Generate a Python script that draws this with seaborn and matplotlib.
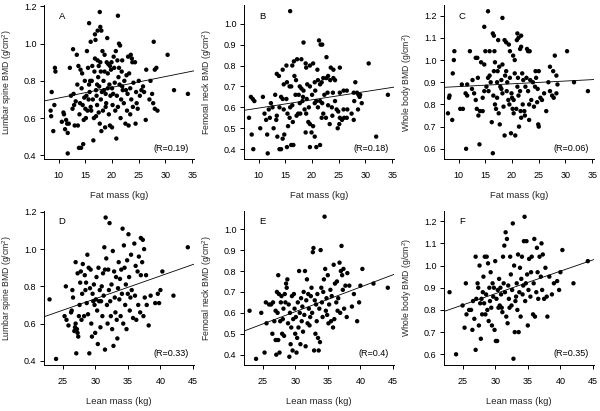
import matplotlib
matplotlib.use("Agg")
import matplotlib.pyplot as plt
import seaborn as sns
import pandas as pd

# ---------------- data ----------------
panel_A = [(8.5,0.64),(8.6,0.61),(8.7,0.74),(9.0,0.53),(9.2,0.67),(9.3,0.87),(9.4,0.85),
    (10.6,0.58),(10.9,0.63),(11.0,0.62),(11.2,0.54),(11.4,0.59),(11.6,0.57),(11.7,0.52),(11.7,0.41),(11.9,0.57),(12.1,0.87),(12.3,0.72),
    (12.6,0.65),(12.7,0.97),(12.8,0.73),(12.9,0.67),(13.0,0.56),(13.2,0.69),(13.4,0.94),(13.5,0.78),(13.6,0.56),(13.7,0.88),(13.8,0.44),(13.9,0.62),(14.0,0.68),(14.1,0.86),(14.2,0.44),(14.3,0.76),(14.4,0.84),(14.5,0.67),
    (14.6,0.46),(14.7,0.59),(14.8,0.71),(14.9,0.80),(15.0,0.65),(15.1,0.60),(15.3,0.96),(15.4,0.64),(15.5,0.87),(15.6,0.70),(15.7,1.11),(15.8,0.74),(15.9,0.80),(16.0,1.01),(16.1,0.64),(16.2,0.80),(16.3,0.88),(16.4,0.70),(16.5,0.48),(16.6,0.60),(16.7,0.85),(16.8,1.05),(16.8,0.92),(16.9,1.02),
    (17.0,0.75),(17.0,0.61),(17.1,0.72),(17.2,0.67),(17.3,1.07),(17.3,0.91),(17.4,0.82),(17.5,0.63),(17.6,0.77),(17.7,1.17),(17.7,0.57),(17.8,1.09),(17.8,0.90),(17.9,0.85),(17.9,0.70),(18.0,1.07),(18.0,0.53),(18.1,0.74),(18.2,0.96),(18.3,0.64),(18.4,0.80),
    (18.5,0.75),(18.6,0.94),(18.6,0.85),(18.7,0.55),(18.8,0.73),(18.9,0.68),(19.0,0.90),(19.1,1.03),(19.2,0.76),(19.3,0.89),(19.4,0.62),(19.5,0.78),(19.6,0.56),(19.7,0.72),(19.8,0.86),(19.9,0.90),(20.0,0.55),(20.0,0.76),(20.1,0.67),
    (20.3,0.93),(20.4,0.87),(20.5,0.79),(20.6,0.64),(20.7,0.96),(20.8,0.49),(20.9,0.72),(21.0,0.91),(21.1,1.15),(21.1,0.66),(21.2,0.82),(21.3,1.00),(21.3,0.87),(21.4,0.78),(21.5,0.99),(21.6,0.60),(21.7,0.70),(21.8,0.85),(21.9,0.91),(22.0,0.75),
    (22.2,0.68),(22.3,0.80),(22.5,0.57),(22.6,0.75),(22.7,0.83),(22.8,0.64),(23.0,0.93),(23.1,0.56),(23.2,0.84),(23.4,0.76),(23.5,0.94),(23.6,0.70),(23.7,0.92),(23.8,0.90),(23.9,0.66),(24.0,0.79),
    (24.3,0.90),(24.4,0.57),(24.5,0.74),(24.6,0.68),(24.8,0.65),(25.0,0.80),(25.2,0.72),(25.5,0.75),(25.8,0.77),(26.0,0.74),
    (26.3,0.59),(26.4,0.86),(27.0,0.70),(27.2,0.80),(27.5,0.73),(27.7,0.68),(27.8,1.01),(28.0,0.86),(28.0,0.65),(28.3,0.87),(28.5,0.64),(30.4,0.94),(31.6,0.75),(34.2,0.73),
    (15.2,0.72),(16.0,0.66),(17.5,0.88),(18.8,0.66),(19.2,0.84),(20.2,0.73),(21.9,0.77),(22.9,0.73),(23.4,0.62),(19.6,0.88),(17.2,0.78),(15.7,0.78)]

panel_B = [(15.9,1.06),(18.4,0.91),(21.3,0.92),(21.6,0.90),(21.9,0.90),(22.7,0.84),(30.6,0.81),(17.2,0.83),(18.0,0.83),(15.2,0.80),(14.5,0.78),(13.8,0.75),(13.4,0.76),
    (16.6,0.82),(16.3,0.80),(18.8,0.81),(18.9,0.79),(19.6,0.80),(20.2,0.81),(21.0,0.78),(23.5,0.79),(24.0,0.78),(25.2,0.79),(28.1,0.72),(14.7,0.71),(15.3,0.72),(15.8,0.70),(16.1,0.70),
    (16.7,0.75),(17.0,0.73),(17.7,0.70),(18.0,0.69),(18.4,0.68),(19.1,0.71),(19.6,0.70),(20.5,0.72),(21.1,0.73),(21.5,0.71),(21.8,0.72),(22.1,0.74),(22.7,0.74),(23.0,0.75),(23.4,0.73),
    (24.0,0.74),(24.3,0.73),(25.2,0.67),(25.9,0.68),(26.5,0.68),(27.8,0.67),(28.4,0.67),(28.7,0.66),(29.0,0.66),(29.3,0.62),(34.2,0.66),(32.0,0.46),(8.2,0.55),(8.55,0.65),(8.7,0.47),
    (8.9,0.64),(9.0,0.40),(9.2,0.63),(10.8,0.65),(10.3,0.50),(11.4,0.54),(11.1,0.57),(11.6,0.47),(11.7,0.38),(11.9,0.59),(12.3,0.62),(12.6,0.60),(12.8,0.50),(13.3,0.54),(13.4,0.56),
    (13.5,0.46),(13.9,0.40),(14.2,0.40),(14.5,0.45),(13.9,0.60),(14.2,0.65),(14.5,0.64),(14.7,0.59),(15.2,0.64),(15.4,0.57),(15.5,0.51),(15.8,0.55),(15.9,0.60),(14.8,0.47),(15.3,0.41),
    (16.1,0.42),(16.5,0.42),(16.4,0.53),(17.1,0.56),(17.4,0.57),(17.7,0.62),(18.2,0.63),(18.6,0.59),(18.9,0.57),(19.3,0.53),(19.6,0.52),(19.9,0.48),(20.2,0.51),(20.5,0.62),(20.8,0.63),
    (21.1,0.60),(21.5,0.63),(19.6,0.41),(20.8,0.41),(21.5,0.42),(20.5,0.46),(18.8,0.48),(21.8,0.55),(22.1,0.57),(22.6,0.55),(23.0,0.61),(23.7,0.60),(24.3,0.63),(23.3,0.52),(23.8,0.56),
    (24.6,0.59),(24.9,0.58),(25.2,0.55),(25.6,0.54),(26.0,0.55),(26.5,0.55),(24.8,0.50),(25.1,0.52),(25.9,0.59),(26.6,0.59),(27.4,0.57),(27.9,0.63),(27.8,0.54),(28.6,0.59),(28.9,0.65),
    (16.9,0.66),(17.5,0.66),(18.3,0.65),(19.0,0.64),(20.0,0.66),(20.6,0.68),(22.3,0.66),(22.9,0.67),(16.3,0.61),(17.8,0.57),(19.4,0.60),(21.9,0.62),(23.9,0.67),(12.1,0.55),(13.1,0.66)]

panel_C = [(15.5,1.22),(18.2,1.19),(14.8,1.15),(16.4,1.12),(16.6,1.11),(17.4,1.09),(18.6,1.09),(18.9,1.08),(19.4,1.07),(21.0,1.12),(21.2,1.10),(21.7,1.11),(20.9,1.09),(21.7,1.06),
    (21.5,1.05),(22.8,1.05),(23.0,1.04),(23.3,1.04),(30.3,1.04),(28.0,1.02),(9.2,1.04),(12.1,1.04),(13.2,1.01),(13.5,1.01),(14.2,0.99),(14.8,0.98),(15.0,1.04),(15.8,1.04),(16.7,1.04),
    (16.8,0.99),(17.6,0.97),(18.2,0.98),(17.3,0.95),(19.6,1.04),(20.2,1.02),(20.5,1.00),(24.4,0.95),(25.0,0.95),(27.1,0.97),(27.7,0.95),(28.3,0.93),(9.1,1.00),(8.9,0.94),(13.6,0.92),
    (12.6,0.91),(11.6,0.89),(11.3,0.85),(8.3,0.84),(8.2,0.83),(8.0,0.76),(8.8,0.73),(10.3,0.78),(10.8,0.78),(11.6,0.84),(11.4,0.60),(13.2,0.82),(13.4,0.78),(14.0,0.77),(13.9,0.62),
    (13.7,0.75),(14.5,0.77),(14.5,0.83),(14.8,0.86),(15.2,0.88),(15.5,0.92),(15.8,0.93),(16.0,0.90),(16.2,0.72),(16.4,0.58),(16.5,0.84),(16.8,0.80),(17.0,0.78),(17.2,0.83),(17.5,0.76),
    (17.7,0.71),(17.8,0.88),(18.0,0.91),(18.2,0.85),(18.4,0.79),(18.6,0.66),(18.7,0.93),(18.9,0.95),(19.1,0.90),(19.3,0.82),(19.5,0.80),(19.6,0.92),(19.8,0.67),(19.9,0.85),(20.0,0.83),
    (20.1,0.78),(20.3,0.82),(20.5,0.94),(20.6,0.66),(20.8,0.78),(21.0,0.88),(21.1,0.92),(21.2,0.84),(21.3,0.70),(21.5,0.86),(21.7,0.74),(21.9,0.94),(22.0,0.80),(22.1,0.91),(22.3,0.77),
    (22.5,0.88),(22.7,0.92),(23.0,0.86),(23.2,0.73),(23.4,0.91),(23.6,0.82),(23.9,0.90),(24.1,0.79),(24.3,0.88),(24.5,0.92),(24.7,0.81),(24.9,0.71),(25.0,0.70),(25.3,0.83),(25.6,0.82),
    (26.0,0.85),(26.4,0.77),(26.8,0.90),(27.1,0.86),(27.5,0.84),(27.8,0.83),(28.3,0.85),(28.5,0.89),(31.6,0.90),(34.2,0.86),(12.5,0.87),(12.9,0.85),(10.6,0.89),(15.6,0.86),(16.6,0.95),
    (17.2,0.90),(18.0,0.87),(19.0,0.86),(20.3,0.76),(21.6,0.77),(22.4,0.75),(23.2,0.80),(24.8,0.87)]

panel_D = [(23.0,0.73),(24.0,0.41),(25.5,0.80),(25.3,0.64),(25.6,0.62),(25.9,0.59),(26.3,0.66),(26.4,0.67),
    (26.5,0.78),(26.6,0.74),(26.8,0.56),(26.9,0.58),(27.0,0.93),(27.0,0.60),(27.1,0.44),(27.2,0.57),(27.3,0.55),(27.3,0.87),(27.4,0.53),(27.5,0.64),(27.6,0.70),(27.7,0.82),(27.8,0.88),
    (27.9,0.62),(28.0,0.76),(28.1,0.92),(28.3,0.64),(28.4,0.86),(28.5,0.78),(28.6,0.82),(28.7,0.71),(28.8,0.97),(28.9,0.65),(29.0,0.90),(29.1,0.44),(29.2,0.79),(29.3,0.89),(29.4,0.60),
    (29.5,0.53),(29.6,0.76),(29.7,0.72),(29.8,0.81),(29.9,0.70),(30.0,0.55),(30.1,0.73),(30.2,0.85),(30.3,0.67),(30.4,0.49),(30.5,0.90),(30.6,0.72),(30.7,0.78),(30.8,0.58),(30.9,0.72),
    (31.0,0.80),(31.1,0.64),(31.2,0.87),(31.3,0.75),(31.4,1.01),(31.5,0.46),(31.5,0.89),(31.6,1.17),(31.7,0.95),(31.8,0.70),(31.9,0.60),(32.0,0.89),(32.1,0.78),(32.2,1.14),(32.3,0.72),
    (32.4,0.64),(32.5,0.81),(32.6,0.57),(32.7,0.99),(32.8,0.48),(32.9,0.88),(33.0,0.74),(33.1,0.66),(33.2,0.85),(33.3,0.62),(33.4,0.52),(33.5,0.79),(33.6,0.93),(33.7,0.73),(33.8,0.84),
    (33.9,0.64),(34.0,0.89),(34.1,0.76),(34.2,1.11),(34.3,0.60),(34.4,1.02),(34.5,0.90),(34.6,0.70),(34.7,0.81),(34.8,0.57),(34.9,0.94),(35.0,0.76),(35.1,1.08),(35.2,0.85),(35.3,0.67),
    (35.4,0.74),(35.5,0.97),(35.6,0.78),(35.8,0.63),(36.0,1.03),(36.1,0.75),(36.2,0.91),(36.3,0.62),(36.5,0.88),(36.6,0.70),(36.7,0.96),(36.9,0.66),(37.0,1.06),(37.0,0.86),(37.2,0.93),
    (37.3,1.05),(37.4,0.64),(37.5,1.00),(37.6,0.74),(37.8,0.86),(37.9,0.70),(38.2,0.59),(38.5,0.75),(39.2,0.71),(39.6,0.76),(39.8,0.71),(40.0,0.78),(40.3,0.88),(42.0,0.75),(44.2,1.01)]

panel_E = [(23.0,0.61),(24.0,0.38),(24.8,0.60),(25.3,0.41),(25.5,0.65),(25.6,0.55),(26.0,0.64),(26.3,0.64),(26.5,0.50),(26.6,0.65),(26.8,0.56),(27.0,0.47),(27.0,0.61),(27.1,0.40),
    (27.2,0.70),(27.3,0.60),(27.4,0.78),(27.4,0.47),(27.5,0.69),(27.6,0.41),(27.7,0.56),(27.8,0.65),(27.9,0.68),(28.0,0.50),(28.1,0.57),(28.2,0.62),(28.3,0.49),(28.4,0.69),(28.5,0.65),
    (28.6,0.74),(28.7,0.72),(28.8,0.76),(28.9,0.55),(29.0,0.64),(29.1,0.39),(29.2,0.60),(29.3,0.45),(29.4,0.53),(29.5,0.68),(29.6,0.42),(29.7,0.57),(29.8,0.69),(29.9,0.62),(30.0,0.50),
    (30.1,0.58),(30.2,0.41),(30.3,0.48),(30.4,0.65),(30.5,0.53),(30.6,0.80),(30.7,0.60),(30.8,0.45),(30.9,0.67),(31.0,0.56),(31.1,0.63),(31.2,0.51),(31.3,0.70),(31.4,0.59),(31.5,0.80),
    (31.6,0.44),(31.7,0.66),(31.8,0.76),(31.9,0.55),(32.0,0.69),(32.1,0.62),(32.2,0.54),(32.3,0.58),(32.4,0.68),(32.5,0.72),(32.6,0.60),(32.7,0.89),(32.8,0.91),(32.9,0.42),(33.0,0.66),
    (33.1,0.50),(33.2,0.64),(33.3,0.56),(33.4,0.69),(33.5,0.48),(33.6,0.42),(33.7,0.62),(33.8,0.46),(33.9,0.90),(34.0,0.72),(34.1,0.65),(34.2,0.58),(34.3,0.70),(34.4,0.76),(34.5,1.06),
    (34.6,0.81),(34.7,0.61),(34.8,0.67),(34.9,0.59),(35.0,0.78),(35.1,0.55),(35.2,0.64),(35.4,0.71),(35.5,0.56),(35.6,0.68),(35.8,0.53),(35.9,0.83),(36.0,0.57),(36.1,0.74),(36.3,0.65),
    (36.4,0.75),(36.5,0.61),(36.6,0.67),(36.8,0.84),(36.9,0.60),(37.0,0.80),(37.1,0.92),(37.2,0.78),(37.3,0.71),(37.4,0.81),(37.5,0.62),(37.7,0.73),(37.9,0.58),(38.0,0.79),(38.3,0.73),
    (38.7,0.63),(39.0,0.69),(39.5,0.56),(39.8,0.65),(40.0,0.73),(40.3,0.81),(42.0,0.74),(44.2,0.72)]

panel_F = [(23.0,0.88),(24.0,0.60),(25.0,0.82),(25.3,0.72),(25.5,0.92),(25.6,0.78),(26.0,0.80),(26.3,0.80),(26.5,0.71),(26.6,0.84),(26.8,0.76),(27.0,1.04),(27.0,0.62),(27.1,0.85),
    (27.3,0.92),(27.4,0.90),(27.5,0.73),(27.6,1.00),(27.7,0.83),(27.8,0.67),(27.9,0.85),(28.0,0.78),(28.1,0.88),(28.2,0.95),(28.3,0.83),(28.4,1.04),(28.5,0.78),(28.6,0.87),(28.7,1.04),
    (28.8,0.80),(28.9,1.01),(29.0,0.75),(29.1,0.90),(29.2,0.84),(29.3,0.97),(29.4,0.81),(29.5,0.73),(29.6,0.92),(29.7,0.86),(29.8,0.90),(29.9,0.71),(30.0,1.02),(30.1,0.66),(30.2,0.85),
    (30.3,0.66),(30.4,0.89),(30.5,0.81),(30.6,0.94),(30.7,0.82),(30.8,0.90),(30.9,0.87),(31.0,0.81),(31.1,0.79),(31.2,1.04),(31.3,0.92),(31.4,1.09),(31.5,0.88),(31.6,1.15),(31.7,0.77),
    (31.8,1.12),(31.9,0.74),(32.0,0.91),(32.1,0.85),(32.2,0.81),(32.3,1.04),(32.4,0.96),(32.5,0.82),(32.6,0.89),(32.7,1.19),(32.8,0.58),(32.9,1.00),(33.0,0.70),(33.1,0.84),(33.2,0.86),
    (33.3,0.92),(33.4,0.80),(33.5,1.05),(33.6,0.70),(33.7,0.88),(33.8,0.99),(33.9,0.77),(34.0,0.94),(34.1,1.04),(34.2,0.87),(34.3,0.91),(34.4,1.11),(34.5,1.22),(34.6,0.84),(34.7,0.92),
    (34.8,1.11),(34.9,0.96),(35.0,0.73),(35.1,0.89),(35.2,1.03),(35.4,0.86),(35.5,0.97),(35.6,1.04),(35.8,0.78),(35.9,0.92),(36.0,1.12),(36.1,0.77),(36.3,0.88),(36.4,1.08),(36.5,0.97),
    (36.6,0.85),(36.8,1.04),(37.0,0.95),(37.1,1.10),(37.2,0.89),(37.3,1.05),(37.5,0.85),(37.7,0.99),(37.9,0.86),(38.0,0.77),(38.3,0.95),(38.7,0.87),(39.0,0.92),(39.5,0.93),(39.8,0.89),
    (40.0,0.97),(40.3,1.07),(42.0,0.92),(44.2,1.02)]

# fitted regression lines (intercept, slope)
fit_A = (0.650, 0.00577)
fit_B = (0.557, 0.00395)
fit_C = (0.868, 0.00125)
fit_D = (0.364, 0.0123)
fit_E = (0.252, 0.01178)
fit_F = (0.568, 0.01017)

panel_letters = ["A", "B", "C", "D", "E", "F"]
r_labels = ["(R=0.19)", "(R=0.18)", "(R=0.06)", "(R=0.33)", "(R=0.4)", "(R=0.35)"]
y_labels = ["Lumbar spine BMD (g/cm$^2$)", "Femoral neck BMD (g/cm$^2$)", "Whole body BMD (g/cm$^2$)"]
x_labels = ["Fat mass (kg)", "Lean mass (kg)"]
fat_ticks = [10, 15, 20, 25, 30, 35]
lean_ticks = [25, 30, 35, 40, 45]
ls_ticks = [0.4, 0.6, 0.8, 1.0, 1.2]
fn_ticks = [0.4, 0.5, 0.6, 0.7, 0.8, 0.9, 1.0]
wb_ticks = [0.6, 0.7, 0.8, 0.9, 1.0, 1.1, 1.2]

# ---------------- figure ----------------
sns.set_theme(style="ticks")
plt.rcParams['font.family'] = ['Liberation Sans', 'DejaVu Sans']
plt.rcParams['mathtext.fontset'] = 'custom'
plt.rcParams['mathtext.rm'] = 'Liberation Sans'

fig = plt.figure(figsize=(6.0, 4.11), dpi=100)
fig.patch.set_facecolor('white')

points = [panel_A, panel_B, panel_C, panel_D, panel_E, panel_F]
fits = [fit_A, fit_B, fit_C, fit_D, fit_E, fit_F]
xlims = [(7.26, 35.34), (22.15, 45.15)]
ylims = [(0.38, 1.205), (0.353, 1.087), (0.554, 1.246)]
yticks = [ls_ticks, fn_ticks, wb_ticks]
xticks = [fat_ticks, lean_ticks]

for i in range(6):
    row, col = divmod(i, 3)
    left = (44 + col * 200) / 600
    bottom = (411 - 159 - row * 205.5) / 411
    ax = fig.add_axes([left, bottom, 150 / 600, 153.5 / 411])
    ax.set_facecolor('white')
    df = pd.DataFrame(points[i], columns=['x', 'y'])
    sns.scatterplot(data=df, x='x', y='y', ax=ax, color='black', s=10,
                    edgecolor='none', linewidth=0, legend=False)
    xl = xlims[row]
    a, b = fits[i]
    line = pd.DataFrame({'x': list(xl), 'y': [a + b * v for v in xl]})
    sns.lineplot(data=line, x='x', y='y', ax=ax, color='black', linewidth=0.6)
    ax.set_xlim(*xl)
    ax.set_ylim(*ylims[col])
    ax.set_xticks(xticks[row])
    ax.set_yticks(yticks[col])
    ax.set_xticklabels([str(t) for t in xticks[row]])
    ax.set_yticklabels([f"{t:.1f}" for t in yticks[col]])
    sns.despine(ax=ax)
    for s in ['left', 'bottom']:
        ax.spines[s].set_linewidth(0.7)
        ax.spines[s].set_color('black')
    ax.tick_params(axis='both', direction='out', length=3, width=0.7, colors='black',
                   labelsize=6.5, pad=2.5)
    ax.tick_params(axis='x', pad=6)
    ax.set_xlabel(x_labels[row], fontsize=6.8)
    ax.set_ylabel(y_labels[col], fontsize=6.2)
    ax.xaxis.set_label_coords(0.5, -0.21)
    ax.yaxis.set_label_coords(-0.2, 0.5)
    ax.text(0.12, 0.93, panel_letters[i], transform=ax.transAxes, ha='center', va='center',
            fontsize=6.8, color='black')
    ax.text(0.967, 0.07, r_labels[i], transform=ax.transAxes, ha='right', va='center',
            fontsize=6.5, color='black')

fig.savefig("out.png", dpi=100, facecolor='white')
